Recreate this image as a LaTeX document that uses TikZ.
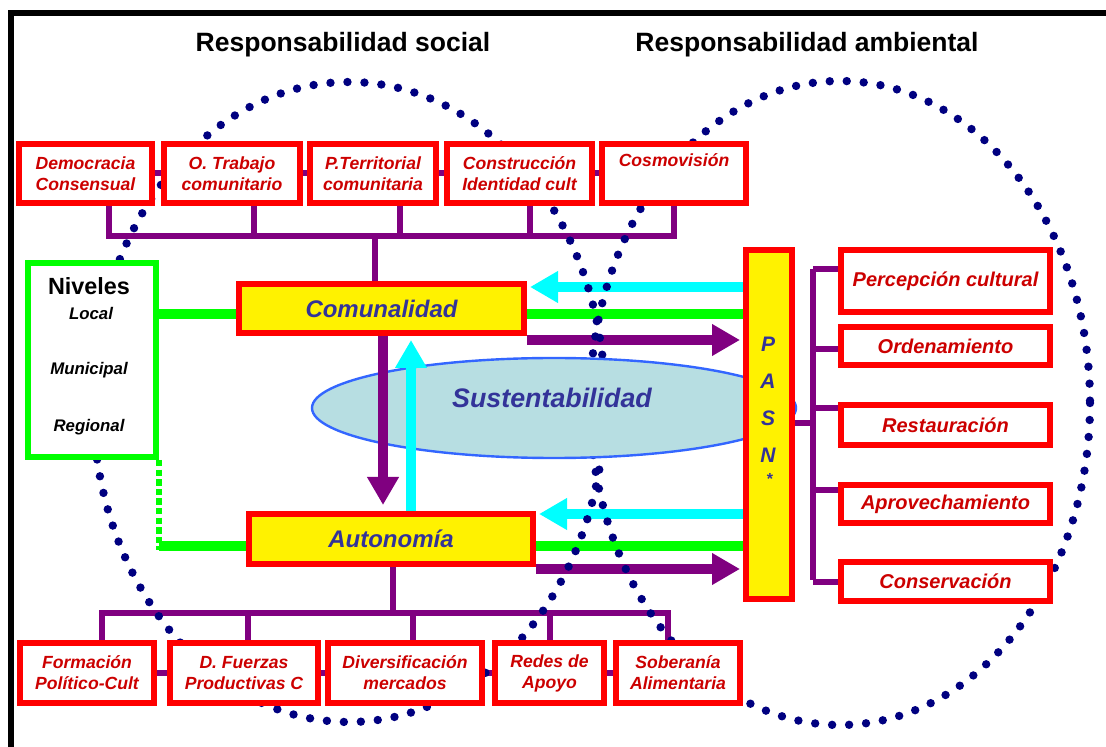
\documentclass[tikz,border=0pt]{standalone}
\usepackage{fontspec}
\setmainfont{Liberation Sans}
\usetikzlibrary{arrows.meta,shapes.geometric}
\definecolor{navydot}{RGB}{0,0,128}
\definecolor{treepurple}{RGB}{128,0,128}
\definecolor{labelred}{RGB}{204,0,0}
\definecolor{textblue}{RGB}{51,51,153}
\definecolor{susfill}{RGB}{183,222,226}
\definecolor{susline}{RGB}{51,102,255}
\definecolor{arrowcyan}{RGB}{0,255,255}
\definecolor{linegreen}{RGB}{0,255,0}
\pgfdeclarelayer{lines}
\pgfdeclarelayer{dots}
\pgfdeclarelayer{upper}
\pgfsetlayers{lines,dots,upper,main}

\begin{document}
\begin{tikzpicture}[x=0.5pt,y=-0.5pt,
    titlefont/.style={font=\bfseries\fontsize{13.25}{15}\selectfont},
    redbox/.style={draw=red, line width=3pt, fill=white, text=labelred, align=center, inner sep=0pt,
        font=\bfseries\itshape\fontsize{8.8}{10.5}\selectfont},
    sidebox/.style={redbox, minimum width=104.5pt, font=\bfseries\itshape\fontsize{10}{12}\selectfont},
    corebox/.style={draw=red, line width=3pt, fill=yellow, text=textblue, inner sep=0pt,
        font=\bfseries\itshape\fontsize{12}{14}\selectfont},
    lvl/.style={font=\bfseries\itshape\fontsize{8.4}{10}\selectfont},
    tree/.style={draw=treepurple, line width=3pt},
    greenline/.style={draw=linegreen, line width=5.25pt},
    greendash/.style={draw=linegreen, line width=3pt, dash pattern=on 3.2pt off 1.6pt},
    cyanarrow/.style={draw=arrowcyan, line width=5pt, shorten >=1.5pt, -{Triangle[length=14pt,width=15pt]}},
    purplearrow/.style={draw=treepurple, line width=5pt, shorten >=1.5pt, -{Triangle[length=14pt,width=15pt]}},
    dotring/.style={draw=navydot, line width=4.2pt, line cap=round, dash pattern=on 0pt off 8.5pt}]
    \useasboundingbox (0,0) rectangle (1106,747);
    \draw[line width=3pt] (1130,13.5) -- (10.5,13.5) -- (10.5,770);

    \node[titlefont] (tsoc) at (343,45) {Responsabilidad social};
    \node[titlefont] (tamb) at (807,45) {Responsabilidad ambiental};

    % fila superior
    \node[redbox, minimum width=66.5pt, minimum height=29.5pt] (dem) at (85.5,173.5) {Democracia\\Consensual};
    \node[redbox, minimum width=68pt, minimum height=29.5pt] (otr) at (232,173.5) {O. Trabajo\\comunitario};
    \node[redbox, minimum width=63pt, minimum height=29.5pt] (pte) at (373,173.5) {P.Territorial\\comunitaria};
    \node[redbox, minimum width=72.5pt, minimum height=29.5pt] (cid) at (519.5,173.5) {Construcción\\Identidad cult};
    \node[redbox, minimum width=72pt, minimum height=29.5pt] (cos) at (674,173.5) {Cosmovisión\\\strut};

    % fila inferior
    \node[redbox, minimum width=67pt, minimum height=30pt] (fpc) at (87,673) {Formación\\Político-Cult};
    \node[redbox, minimum width=74pt, minimum height=30pt] (dfp) at (244,673) {D. Fuerzas\\Productivas C};
    \node[redbox, minimum width=77pt, minimum height=30pt] (div) at (405,673) {Diversificación\\mercados};
    \node[redbox, minimum width=54.5pt, minimum height=30pt] (rap) at (549.5,673) {Redes de\\Apoyo};
    \node[redbox, minimum width=62pt, minimum height=30pt] (sob) at (678,673) {Soberanía\\Alimentaria};

    % columna derecha
    \node[sidebox, minimum height=31pt] (per) at (945.5,281) {Percepción cultural};
    \node[sidebox, minimum height=19pt] (ord) at (945.5,346) {Ordenamiento};
    \node[sidebox, minimum height=20pt] (res) at (945.5,425) {Restauración};
    \node[sidebox, minimum height=19pt] (apr) at (945.5,504) {Aprovechamiento};
    \node[sidebox, minimum height=19.5pt] (con) at (945.5,581.5) {Conservación};

    % centro
    \node[corebox, minimum width=142.5pt, minimum height=24.5pt] (com) at (381.5,308.5) {Comunalidad};
    \node[corebox, minimum width=142pt, minimum height=25pt] (aut) at (391,539) {Autonomía};
    \node[draw=red, line width=3pt, fill=yellow, minimum width=23pt, minimum height=174.5pt, inner sep=0pt] (pasn) at (769,424.5) {};
    \node[text=textblue, align=center, font=\bfseries\itshape\fontsize{10.5}{18.5}\selectfont] (pasnlbl) at (768,400) {P\\A\\S\\N};
    \node[text=textblue, inner sep=0pt, font=\bfseries\fontsize{8}{8}\selectfont] (ast) at (770,479) {*};

    % niveles
    \node[draw=linegreen, line width=3pt, fill=white, minimum width=64pt, minimum height=97pt, inner sep=0pt] (niv) at (92,360) {};
    \node[font=\bfseries\fontsize{11.7}{13}\selectfont] (nivt) at (89,286) {Niveles};
    \node[lvl] (loc) at (91,313) {Local};
    \node[lvl] (mun) at (89,370) {Municipal};
    \node[lvl] (reg) at (89,427) {Regional};

    \begin{pgfonlayer}{lines}
    \draw[tree] (dem) -- (cos);
    \coordinate (topbus) at (375,236);
    \draw[tree] ([xshift=11.75pt]dem.south) |- (topbus) -| (cos.south);
    \draw[tree] ([xshift=11pt]otr.south) |- (topbus);
    \draw[tree] ([xshift=13.5pt]pte.south) |- (topbus);
    \draw[tree] ([xshift=5.25pt]cid.south) |- (topbus);
    \draw[tree] (topbus) -- (topbus |- com.north);

    \draw[tree] (fpc) -- (sob);
    \coordinate (botbus) at (393,613);
    \draw[tree] ([xshift=7.5pt]fpc.north) |- (botbus) -| ([xshift=-5pt]sob.north);
    \draw[tree] ([xshift=2pt]dfp.north) |- (botbus);
    \draw[tree] ([xshift=4pt]div.north) |- (botbus);
    \draw[tree] (rap.north) |- (botbus);
    \draw[tree] (aut.south -| botbus) -- (botbus);

    \coordinate (rbus) at (813,423);
    \draw[tree] (pasn.east |- rbus) -- (rbus);
    \draw[tree] (rbus |- 0,269) -- (rbus |- 0,580);
    \foreach \b/\y in {per/269, ord/349, res/408, apr/490, con/582}
        \draw[tree] (rbus |- 0,\y) -- (\b.west |- 0,\y);

    \draw[greenline] (niv.east |- 0,314) -- (pasn.west |- 0,314);
    \draw[greenline] (niv.east |- 0,546) -- (pasn.west |- 0,546);
    \draw[greendash] (niv.south east) -- (niv.south east |- 0,550);

    \draw[cyanarrow] (pasn.west |- 0,287) -- (com.east |- 0,287);
    \draw[purplearrow] (com.east |- 0,340) -- (pasn.west |- 0,340);
    \draw[cyanarrow] (pasn.west |- 0,514) -- (aut.east |- 0,514);
    \draw[purplearrow] (aut.east |- 0,569) -- (pasn.west |- 0,569);
    \end{pgfonlayer}

    \begin{pgfonlayer}{dots}
    \draw[dotring] (349,402) ellipse [x radius=256, y radius=320];
    \draw[dotring] (840,403) ellipse [x radius=250, y radius=322];
    \node[ellipse, draw=susline, line width=1.2pt, fill=susfill, minimum width=242pt, minimum height=50pt, inner sep=0pt] (sus) at (554,408) {};
    \node[text=textblue, font=\bfseries\itshape\fontsize{13.4}{15}\selectfont] (sustxt) at (552,398) {Sustentabilidad};
    \end{pgfonlayer}

    \begin{pgfonlayer}{upper}
    \draw[purplearrow, shorten >=3pt] (com.south -| 383,0) -- (aut.north -| 383,0);
    \draw[cyanarrow, shorten >=2pt] (aut.north -| 411,0) -- (com.south -| 411,0);
    \end{pgfonlayer}
\end{tikzpicture}
\end{document}
